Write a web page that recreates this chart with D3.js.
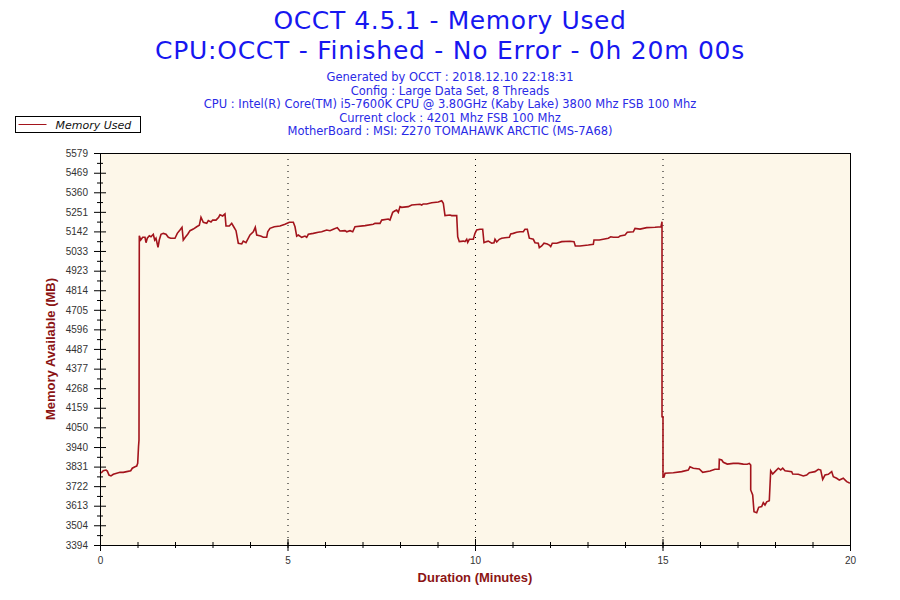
<html><head>
  <script src="https://d3js.org/d3.v7.min.js"></script>
  <style>
    body { margin: 0; background: #fff; }
    .title { font-family: 'DejaVu Sans', Verdana, sans-serif; fill: #1717f0; }
    .info { font-family: 'DejaVu Sans', Verdana, sans-serif; fill: #2a2ae6; font-size: 11.5px; }
    .axis text { font-family: 'Liberation Sans', Arial, sans-serif; font-size: 10px; fill: #333; }
    .axis path, .axis line { stroke: #000; }
    .axisTitle { font-family: 'Liberation Sans', Arial, sans-serif; font-size: 13px; font-weight: bold; fill: #8b1414; }
  </style>
</head>
<body>
  <script>
    // Chart texts
    const titleLines = ["OCCT 4.5.1 - Memory Used", "CPU:OCCT - Finished - No Error - 0h 20m 00s"]
    const infoLines = ["Generated by OCCT : 2018.12.10 22:18:31",
                       "Config : Large Data Set, 8 Threads",
                       "CPU : Intel(R) Core(TM) i5-7600K CPU @ 3.80GHz (Kaby Lake) 3800 Mhz FSB 100 Mhz",
                       "Current clock : 4201 Mhz FSB 100 Mhz",
                       "MotherBoard : MSI: Z270 TOMAHAWK ARCTIC (MS-7A68)"]
    const seriesName = "Memory Used"

    // Axis ticks
    const yTickLabels = [3394, 3504, 3613, 3722, 3831, 3940, 4050, 4159, 4268, 4377, 4487,
                         4596, 4705, 4814, 4923, 5033, 5142, 5251, 5360, 5469, 5579]
    const xTickLabels = [0, 5, 10, 15, 20]
    const xMinorTicks = d3.range(0, 21)

    // Memory used: time (minutes) and value (MB)
    const times = [0.000, 0.045, 0.088, 0.160, 0.195, 0.240, 0.293, 0.355, 0.445, 0.533, 0.621, 0.712, 0.819, 0.861, 0.933, 0.979,
      1.005, 1.027, 1.040, 1.048, 1.085, 1.139, 1.200, 1.227, 1.261, 1.315, 1.360, 1.421, 1.459, 1.493, 1.547, 1.581, 1.627, 1.688,
      1.760, 1.821, 1.885, 2.000, 2.061, 2.133, 2.187, 2.221, 2.285, 2.339, 2.400, 2.488, 2.579, 2.648, 2.693, 2.755, 2.845, 2.888,
      2.960, 3.005, 3.093, 3.165, 3.200, 3.272, 3.333, 3.360, 3.448, 3.512, 3.573, 3.627, 3.688, 3.779, 3.821, 3.893, 4.000, 4.088,
      4.141, 4.179, 4.285, 4.355, 4.445, 4.472, 4.533, 4.648, 4.800, 4.933, 5.048, 5.155, 5.200, 5.245, 5.288, 5.379, 5.467, 5.512,
      5.555, 5.688, 5.821, 5.912, 6.045, 6.133, 6.221, 6.328, 6.400, 6.533, 6.579, 6.667, 6.739, 6.800, 7.067, 7.288, 7.333, 7.467,
      7.512, 7.688, 7.733, 7.805, 7.867, 7.912, 7.955, 8.000, 8.045, 8.221, 8.312, 8.533, 8.579, 8.621, 8.712, 8.845, 9.021, 9.112,
      9.155, 9.200, 9.333, 9.379, 9.512, 9.539, 9.581, 9.688, 9.733, 9.779, 9.805, 9.848, 9.955, 10.000, 10.045, 10.133, 10.205,
      10.240, 10.312, 10.355, 10.445, 10.507, 10.533, 10.579, 10.648, 10.712, 10.800, 10.915, 10.952, 11.021, 11.112, 11.200, 11.288,
      11.333, 11.395, 11.448, 11.555, 11.600, 11.688, 11.715, 11.779, 11.840, 11.928, 11.981, 12.019, 12.061, 12.179, 12.312, 12.533,
      12.640, 12.675, 12.800, 13.021, 13.155, 13.173, 13.315, 13.555, 13.619, 13.688, 13.821, 13.867, 14.000, 14.061, 14.221, 14.267,
      14.400, 14.579, 14.800, 14.960, 14.987, 14.987, 15.013, 15.013, 15.040, 15.067, 15.288, 15.512, 15.688, 15.733, 15.821, 15.981,
      16.072, 16.267, 16.400, 16.507, 16.515, 16.579, 16.621, 16.728, 16.888, 17.021, 17.155, 17.261, 17.315, 17.352, 17.352, 17.405,
      17.440, 17.512, 17.565, 17.645, 17.688, 17.733, 17.779, 17.848, 17.885, 17.939, 18.000, 18.088, 18.152, 18.205, 18.267, 18.445,
      18.472, 18.621, 18.755, 18.845, 18.915, 19.067, 19.155, 19.219, 19.272, 19.333, 19.421, 19.512, 19.555, 19.645, 19.715, 19.821,
      19.912, 19.973, 20.000]
    const memUsed = [3794, 3799, 3808, 3812, 3806, 3784, 3779, 3788, 3794, 3799, 3799, 3803, 3808, 3822, 3830, 3834,
      3849, 3942, 3979, 5118, 5094, 5109, 5109, 5079, 5104, 5118, 5112, 5126, 5094, 5104, 5053, 5094, 5126, 5131,
      5126, 5109, 5104, 5104, 5131, 5150, 5165, 5094, 5112, 5126, 5146, 5155, 5168, 5176, 5221, 5193, 5187, 5202,
      5194, 5205, 5205, 5221, 5235, 5228, 5239, 5172, 5172, 5187, 5165, 5146, 5076, 5072, 5088, 5079, 5122, 5140,
      5165, 5122, 5116, 5109, 5109, 5140, 5159, 5168, 5172, 5182, 5193, 5193, 5168, 5116, 5122, 5109, 5116, 5109,
      5126, 5131, 5137, 5140, 5150, 5146, 5154, 5163, 5144, 5146, 5140, 5146, 5140, 5168, 5174, 5182, 5187, 5187,
      5205, 5211, 5205, 5248, 5257, 5261, 5248, 5280, 5276, 5280, 5289, 5293, 5289, 5295, 5295, 5302, 5306, 5313,
      5299, 5230, 5233, 5230, 5230, 5112, 5085, 5088, 5085, 5098, 5081, 5098, 5098, 5131, 5150, 5154, 5154,
      5079, 5085, 5088, 5076, 5079, 5098, 5083, 5098, 5104, 5107, 5109, 5128, 5131, 5137, 5140, 5140,
      5154, 5154, 5104, 5098, 5079, 5076, 5051, 5061, 5076, 5072, 5066, 5057, 5076, 5076, 5085, 5087,
      5085, 5061, 5061, 5066, 5070, 5094, 5094, 5104, 5112, 5109, 5109, 5116, 5122, 5137, 5140, 5159,
      5155, 5163, 5165, 5168, 5196, 4109, 4109, 3773, 3773, 3794, 3797, 3803, 3812, 3830, 3822, 3818,
      3799, 3806, 3816, 3816, 3872, 3868, 3855, 3845, 3849, 3849, 3845, 3844, 3849, 3840, 3701, 3673,
      3580, 3574, 3604, 3608, 3630, 3617, 3635, 3641, 3808, 3790, 3803, 3822, 3812, 3822, 3808, 3803,
      3790, 3788, 3779, 3784, 3797, 3803, 3816, 3812, 3760, 3784, 3788, 3803, 3775, 3766, 3756, 3766,
      3747, 3741, 3740]

    const series = times.map((t, i) => ({t: t, v: memUsed[i]}))

    const svg = d3.select("body").append("svg")
                  .attr("width", 900)
                  .attr("height", 600)

    // Titles
    svg.selectAll("text.title").data(titleLines).join("text")
       .attr("class", "title")
       .attr("x", 450)
       .attr("y", (d, i) => 29 + i * 30)
       .attr("text-anchor", "middle")
       .style("font-size", "25px")
       .style("letter-spacing", (d, i) => i == 0 ? "0.6px" : "0.75px")
       .text(d => d)

    svg.selectAll("text.info").data(infoLines).join("text")
       .attr("class", "info")
       .attr("x", 450)
       .attr("y", (d, i) => 81 + i * 13.5)
       .attr("text-anchor", "middle")
       .text(d => d)

    // Plot area
    const margin = {top: 153, bottom: 55, left: 100, right: 50}
    const chartWidth = 900 - margin.left - margin.right
    const chartHeight = 600 - margin.top - margin.bottom

    const xScale = d3.scaleLinear().domain([0, 20]).range([0, chartWidth])
    const yScale = d3.scaleLinear().domain([3394, 5579]).range([chartHeight, 0])

    const chartArea = svg.append("g")
                         .attr("transform", `translate(${margin.left},${margin.top})`)

    chartArea.append("rect")
             .attr("x", 0.5).attr("y", 0.5)
             .attr("width", chartWidth).attr("height", chartHeight)
             .style("fill", "#fdf7e9")
             .style("stroke", "#000")

    // Dotted gridlines every 5 minutes
    chartArea.selectAll("line.grid").data(xTickLabels.slice(1, -1)).join("line")
             .attr("class", "grid")
             .attr("x1", d => xScale(d) + 0.5).attr("x2", d => xScale(d) + 0.5)
             .attr("y1", 0).attr("y2", chartHeight)
             .style("stroke", "#000")
             .style("stroke-dasharray", "1,5")

    // Data line
    const line = d3.line().x(d => xScale(d.t)).y(d => yScale(d.v))
    chartArea.append("path")
             .datum(series)
             .attr("d", line)
             .style("fill", "none")
             .style("stroke", "#a3141c")
             .style("stroke-width", 1.6)
             .style("stroke-linejoin", "miter")

    // Axes
    const midTicks = d3.range(yTickLabels.length - 1).map(i => (yTickLabels[i] + yTickLabels[i + 1]) / 2)
    const leftMinor = d3.axisLeft(yScale).tickValues(midTicks).tickSize(3).tickSizeOuter(0).tickFormat("")
    const leftAxis = d3.axisLeft(yScale).tickValues(yTickLabels).tickSize(6).tickSizeOuter(0).tickPadding(6)
                       .tickFormat(d3.format("d"))
    const bottomMinor = d3.axisBottom(xScale).tickValues(xMinorTicks).tickSize(3).tickSizeOuter(0).tickFormat("")
    const bottomAxis = d3.axisBottom(xScale).tickValues(xTickLabels).tickSize(6).tickSizeOuter(0).tickPadding(5.5)
                         .tickFormat(d3.format("d"))

    chartArea.append("g").attr("class", "axis").call(leftMinor)
             .selectAll(".tick line").attr("x1", 3)
    chartArea.append("g").attr("class", "axis").call(leftAxis)
             .selectAll(".tick line").attr("x1", 6)
    chartArea.append("g").attr("class", "axis")
             .attr("transform", `translate(0,${chartHeight})`)
             .call(bottomMinor)
             .selectAll(".tick line").attr("y1", -3)
    chartArea.append("g").attr("class", "axis")
             .attr("transform", `translate(0,${chartHeight})`)
             .call(bottomAxis)
             .selectAll(".tick line").attr("y1", -6)

    // Axis titles
    svg.append("text").attr("class", "axisTitle")
       .attr("x", margin.left + chartWidth / 2).attr("y", 582)
       .attr("text-anchor", "middle")
       .text("Duration (Minutes)")
    svg.append("text").attr("class", "axisTitle")
       .attr("transform", `translate(55,${margin.top + chartHeight / 2}) rotate(-90)`)
       .attr("text-anchor", "middle")
       .text("Memory Available (MB)")

    // Legend
    const legend = svg.append("g").attr("transform", "translate(15.5,116.5)")
    legend.append("rect")
          .attr("width", 125).attr("height", 16)
          .style("fill", "#fff").style("stroke", "#000")
    legend.append("line")
          .attr("x1", 3).attr("x2", 31).attr("y1", 8).attr("y2", 8)
          .style("stroke", "#a3141c")
    legend.append("text")
          .attr("x", 40).attr("y", 12)
          .style("font-family", "'DejaVu Sans', Verdana, sans-serif")
          .style("font-size", "11px")
          .style("font-style", "italic")
          .style("fill", "#111")
          .text(seriesName)
  </script>
</body></html>
